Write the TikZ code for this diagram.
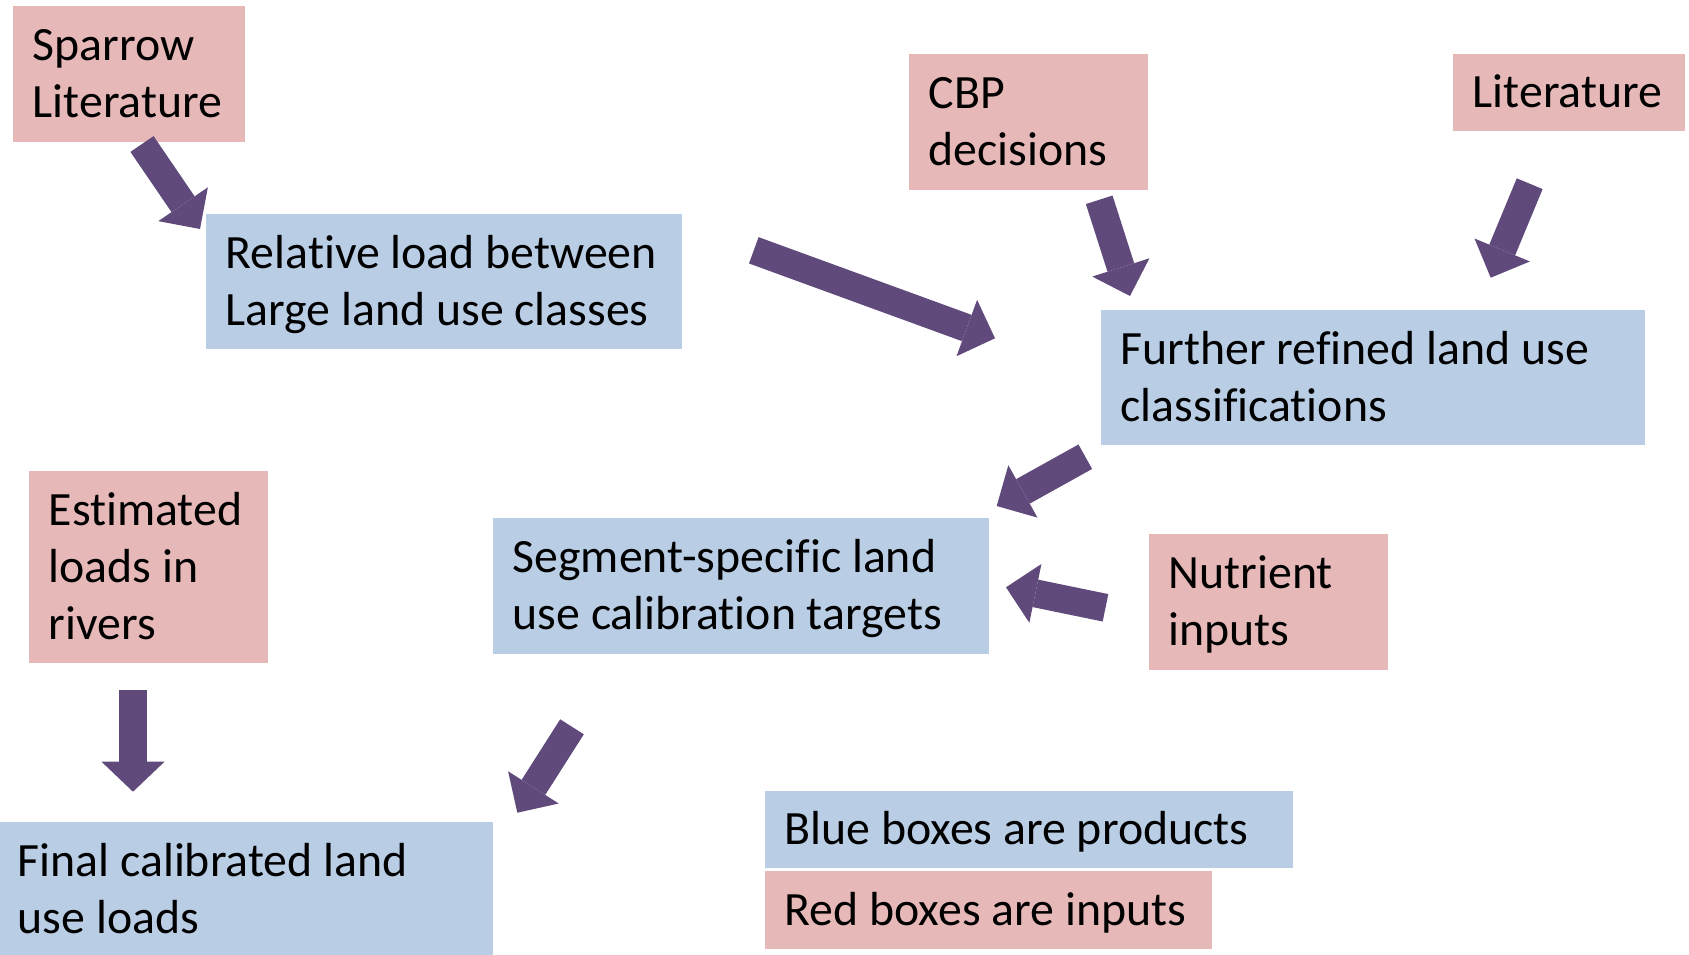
\documentclass[tikz,border=0pt]{standalone}
\usepackage{fontspec}
\setmainfont{Carlito}[Ligatures=NoCommon]
\usetikzlibrary{arrows.meta}
\definecolor{pinkbox}{HTML}{E6B9B8}
\definecolor{bluebox}{HTML}{B9CDE5}
\definecolor{arrowcol}{HTML}{604A7B}
\newcommand\st{\rule[-0.9mm]{0pt}{4.9mm}}
\newcommand\mline[1]{\mbox{\spaceskip=0pt\xspaceskip=0pt\relax\st#1}}
\newcommand\boxfont{\fontsize{13.6pt}{16.2pt}\selectfont}
\begin{document}
\begin{tikzpicture}[x=0.1mm,y=-0.1mm,
  box/.style={anchor=north west, inner xsep=2mm, inner ysep=0pt, align=left,
    font=\boxfont},
  inbox/.style={box, fill=pinkbox},
  prodbox/.style={box, fill=bluebox},
  blockarrow/.style={draw=arrowcol, line width=2.8mm,
    -{Triangle[width=6mm,length=3mm,line width=0pt]}}]
\useasboundingbox (0,0) rectangle (1689,954);
\clip (0,0) rectangle (1689,954);

% boxes
\node[inbox, text width=19.2mm, minimum height=13.6mm] (spar) at (12,5)
  {\mline{Sparrow}\\\mline{Literature}};
\node[prodbox, text width=43.6mm, minimum height=13.5mm] (rel) at (205,213)
  {\mline{Relative load between}\\\mline{Large land use classes}};
\node[inbox, text width=19.9mm, minimum height=13.6mm] (cbp) at (908,53)
  {\mline{CBP}\\\mline{decisions}};
\node[inbox, text width=19.2mm, minimum height=7.7mm] (lit) at (1452,53)
  {\mline{Literature}};
\node[prodbox, text width=50.4mm, minimum height=13.5mm] (fur) at (1100,309)
  {\mline{Further refined land use}\\\mline{classifications}};
\node[inbox, text width=19.9mm, minimum height=19.2mm] (est) at (28,470)
  {\mline{Estimated}\\\mline{loads in}\\\mline{rivers}};
\node[prodbox, text width=45.6mm, minimum height=13.6mm] (seg) at (492,517)
  {\mline{Segment-specific land}\\\mline{use calibration targets}};
\node[inbox, text width=19.9mm, minimum height=13.6mm] (nut) at (1148,533)
  {\mline{Nutrient}\\\mline{inputs}};
\node[prodbox, text width=45.5mm, minimum height=13.6mm] (fin) at (-3,821)
  {\mline{Final calibrated land}\\\mline{use loads}};
\node[prodbox, text width=48.8mm, minimum height=7.7mm] (legb) at (764,790)
  {\mline{Blue boxes are products}};
\node[inbox, text width=40.7mm, minimum height=7.8mm] (legr) at (764,870)
  {\mline{Red boxes are inputs}};

% block arrows
\coordinate (a1t) at (142,144);    \coordinate (a1h) at (200,229);
\coordinate (a2t) at (753.8,250.3);\coordinate (a2h) at (995,338.3);
\coordinate (a3t) at (1099.2,199.8);\coordinate (a3h) at (1130,296);
\coordinate (a4t) at (1529.7,183.7);\coordinate (a4h) at (1490.7,277.7);
\coordinate (a5t) at (1085.3,456.7);\coordinate (a5h) at (996.7,506);
\coordinate (a6t) at (1105.5,607.8);\coordinate (a6h) at (1006,587.3);
\coordinate (a7t) at (572,726.8);  \coordinate (a7h) at (517.3,812.7);
\coordinate (a8t) at (133,690);    \coordinate (a8h) at (133,791.7);

\draw[blockarrow] (a1t) -- (a1h);
\draw[blockarrow] (a2t) -- (a2h);
\draw[blockarrow] (a3t) -- (a3h);
\draw[blockarrow] (a4t) -- (a4h);
\draw[blockarrow] (a5t) -- (a5h);
\draw[blockarrow] (a6t) -- (a6h);
\draw[blockarrow] (a7t) -- (a7h);
\draw[blockarrow,-{Triangle[width=6.3mm,length=3mm,line width=0pt]}] (a8t) -- (a8h);
\end{tikzpicture}
\end{document}
